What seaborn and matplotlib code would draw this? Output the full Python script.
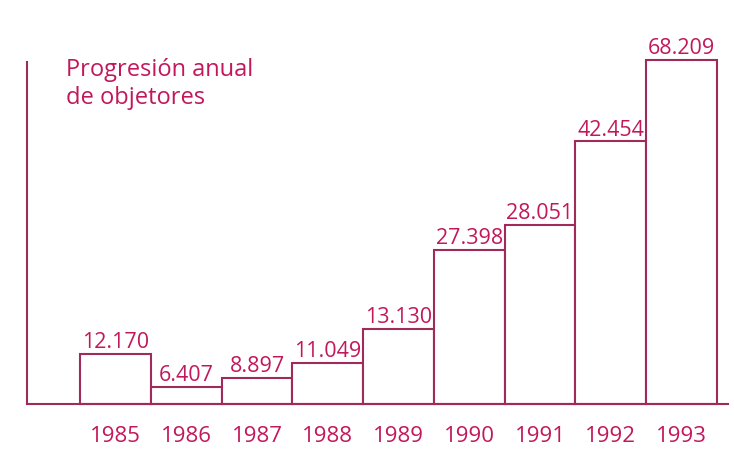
import seaborn as sns
import matplotlib.pyplot as plt

# datos
anios = ['1985', '1986', '1987', '1988', '1989', '1990', '1991', '1992', '1993']
objetores = [12170, 6407, 8897, 11049, 13130, 27398, 28051, 42454, 68209]
# altura con la que estan dibujadas las barras (miles, no es proporcional al valor)
alto_dibujo = [9.9, 3.4, 5.2, 8.1, 14.9, 30.5, 35.5, 52.1, 68.2]
titulo = 'Progresión anual\nde objetores'

texto = '#c2185b'
linea = '#a02a5a'

sns.set_theme(style='white')
plt.rcParams['font.family'] = ['Open Sans', 'DejaVu Sans']

fig = plt.figure(figsize=(7.34, 4.51), dpi=100)
ax = fig.add_axes([0.0368, 0.1042, 0.955, 0.7583])

sns.barplot(x=anios, y=alto_dibujo, color='white', saturation=1, width=1,
            edgecolor=linea, linewidth=1.5, ax=ax)
for p in ax.patches:
    p.set_clip_on(False)

def etiqueta(v):
    return f'{v:,}'.replace(',', '.')

for i, (v, h) in enumerate(zip(objetores, alto_dibujo)):
    ax.annotate(etiqueta(v), (i, h), xytext=(0, 0.5), textcoords='offset points',
                ha='center', va='bottom', color=texto, fontsize=15.5,
                annotation_clip=False)

ax.set_xlim(-1.251, 8.657)
ax.set_ylim(0, 67.8)
ax.set_yticks([])
ax.set_xlabel('')
ax.set_ylabel('')
ax.tick_params(axis='x', length=0, pad=15.5, labelsize=16, labelcolor=texto)

for s in ['top', 'right']:
    ax.spines[s].set_visible(False)
for s in ['left', 'bottom']:
    ax.spines[s].set_color(linea)
    ax.spines[s].set_linewidth(1.5)

fig.text(66 / 734, 1 - 58 / 451, titulo, ha='left', va='top',
         color=texto, fontsize=17, linespacing=1.22)

fig.savefig('out.png', dpi=100, facecolor='white')
